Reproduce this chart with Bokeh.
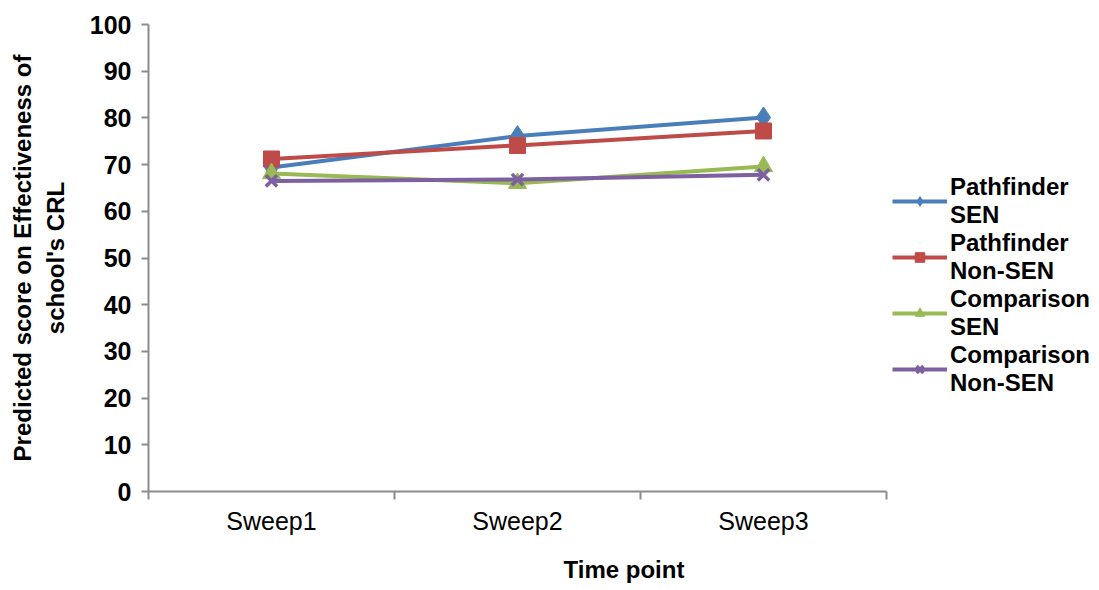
from bokeh.plotting import figure
from bokeh.models import FixedTicker, Legend, LegendItem, Range1d
from bokeh.embed import file_html
from bokeh.resources import INLINE

categories = ["Sweep1", "Sweep2", "Sweep3"]
y_ticks = [0, 10, 20, 30, 40, 50, 60, 70, 80, 90, 100]

series_names = ["Pathfinder\nSEN", "Pathfinder\nNon-SEN", "Comparison\nSEN", "Comparison\nNon-SEN"]
pathfinder_sen = [69.4, 76.1, 80.1]
pathfinder_non_sen = [71.2, 74.1, 77.2]
comparison_sen = [68.1, 66.0, 69.6]
comparison_non_sen = [66.5, 66.8, 67.8]

colors = ["#4A7EBB", "#BE4B48", "#98B954", "#7D60A0"]
markers = ["diamond", "square", "triangle", "x"]
sizes = [21, 16, 18, 16]

FONT = "Liberation Sans"

W, H = 1099, 590
LEFT, TOP, BOTTOM = 148, 24, 99
n = len(categories)
frame_px = W - LEFT
axis_px = 738
x_end = n * frame_px / axis_px

p = figure(width=W, height=H, output_backend="svg", toolbar_location=None,
           x_range=Range1d(0, x_end), y_range=Range1d(0, 100),
           min_border_left=LEFT, min_border_top=TOP, min_border_bottom=BOTTOM, min_border_right=0)
p.outline_line_color = None
p.grid.visible = False
p.background_fill_color = "white"

xs = [i + 0.5 for i in range(n)]
all_series = [pathfinder_sen, pathfinder_non_sen, comparison_sen, comparison_non_sen]
items = []
for name, vals, c, m, s in zip(series_names, all_series, colors, markers, sizes):
    r1 = p.line(xs, vals, line_color=c, line_width=4)
    if m == "x":
        r2 = p.scatter(xs, vals, marker=m, size=s, line_color=c, line_width=3.5)
    else:
        r2 = p.scatter(xs, vals, marker=m, size=s, fill_color=c, line_color=c)
    items.append(LegendItem(label=name, renderers=[r1, r2]))

legend = Legend(items=items, location=(axis_px + 6, 94), border_line_color=None,
                background_fill_alpha=0, label_text_font=FONT,
                label_text_font_size="24px", label_text_font_style="bold",
                label_text_color="black", glyph_width=55, glyph_height=24,
                label_standoff=3, spacing=0, padding=0, margin=0,
                label_text_line_height=1.2)
p.add_layout(legend, "center")

# x axis
p.xaxis.bounds = (0, n)
p.xaxis.ticker = FixedTicker(ticks=xs, minor_ticks=list(range(n + 1)))
p.xaxis.major_label_overrides = {x: c for x, c in zip(xs, categories)}
p.xaxis.major_tick_out = 0
p.xaxis.major_tick_in = 0
p.xaxis.minor_tick_out = 8
p.xaxis.minor_tick_in = 0
p.xaxis.major_label_standoff = 7
p.xaxis.major_label_text_font = FONT
p.xaxis.major_label_text_font_size = "25px"
p.xaxis.major_label_text_color = "black"
p.xaxis.axis_label = "Time point"
p.xaxis.axis_label_text_font = FONT
p.xaxis.axis_label_text_font_size = "24px"
p.xaxis.axis_label_text_font_style = "bold"
p.xaxis.axis_label_text_color = "black"
p.xaxis.axis_label_standoff = 18

# y axis
p.yaxis.ticker = FixedTicker(ticks=y_ticks, minor_ticks=[])
p.yaxis.major_tick_out = 7
p.yaxis.major_tick_in = 0
p.yaxis.major_label_standoff = 10
p.yaxis.major_label_text_font = FONT
p.yaxis.major_label_text_font_size = "25px"
p.yaxis.major_label_text_font_style = "bold"
p.yaxis.major_label_text_color = "black"
p.yaxis.axis_label = "Predicted score on Effectiveness of\nschool's CRL"
p.yaxis.axis_label_text_font = FONT
p.yaxis.axis_label_text_font_size = "24px"
p.yaxis.axis_label_text_font_style = "bold"
p.yaxis.axis_label_text_color = "black"
p.yaxis.axis_label_standoff = 18

for ax in (p.xaxis, p.yaxis):
    ax.axis_line_color = "#8C8C8C"
    ax.axis_line_width = 2
    ax.major_tick_line_color = "#8C8C8C"
    ax.major_tick_line_width = 2
    ax.minor_tick_line_color = "#8C8C8C"
    ax.minor_tick_line_width = 2

open("out.html", "w").write(file_html(p, INLINE))
